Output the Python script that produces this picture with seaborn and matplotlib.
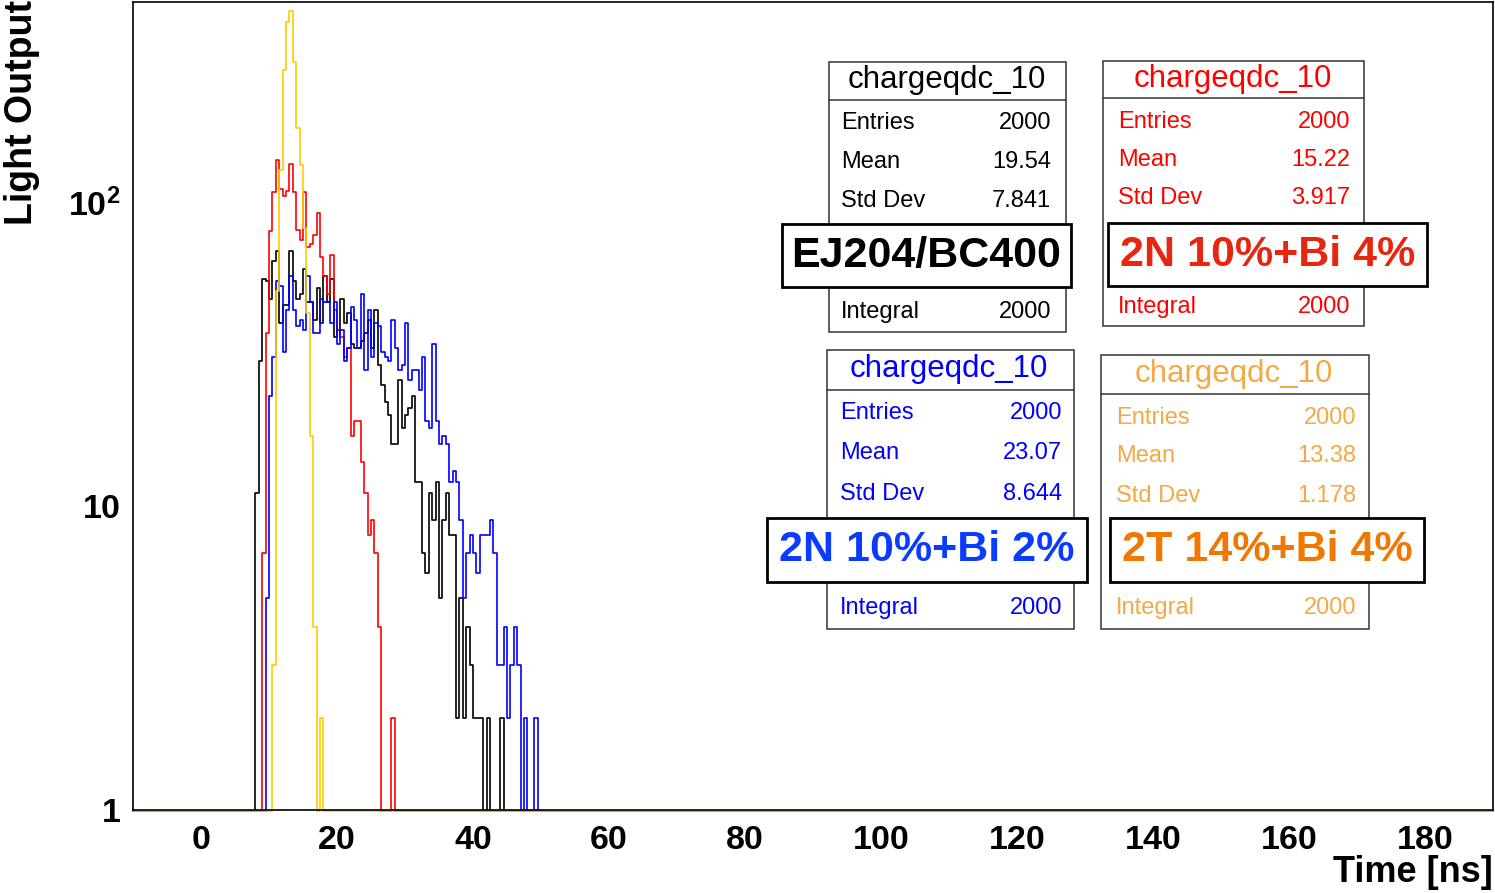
import numpy as np
import pandas as pd
import matplotlib
matplotlib.use("Agg")
import matplotlib.pyplot as plt
import seaborn as sns
from matplotlib.patches import Rectangle
from matplotlib.lines import Line2D
from matplotlib.ticker import FixedLocator, MultipleLocator, LogLocator, NullFormatter

# ---------------- data ----------------
BIN_WIDTH = 0.5
X_RANGE = (-10, 190)
Y_RANGE = (1, 455)
EMPTY_BIN_LEVEL = 0.99   # where empty bins are drawn on the log axis (at its floor)

black_start = 8.0
black_counts = [11, 30, 56, 55, 48, 64, 69, 40, 46, 46,
                69, 55, 48, 50, 60, 47, 47, 41, 52, 40,
                57, 47, 56, 36, 38, 48, 40, 43, 34, 33,
                33, 35, 37, 41, 33, 44, 29, 25, 22, 20,
                16, 16, 26, 18, 20, 21, 23, 12, 12, 7,
                6, 11, 9, 12, 5, 9, 11, 8, 8, 2,
                5, 2, 4, 3, 2, 2, 2, 0, 2, 0,
                0, 0, 2]

red_start = 9.0
red_counts = [7, 37, 80, 108, 137, 110, 105, 109, 133, 108,
              81, 75, 108, 71, 73, 78, 92, 66, 57, 50,
              67, 44, 38, 36, 31, 33, 17, 19, 19, 14,
              11, 8, 9, 7, 4, 0, 0, 0, 2]

blue_start = 9.5
blue_counts = [5, 23, 31, 55, 53, 32, 44, 57, 44, 39,
               41, 38, 57, 47, 37, 37, 48, 47, 47, 40,
               47, 34, 38, 30, 33, 45, 41, 33, 50, 28,
               44, 31, 40, 39, 32, 31, 30, 41, 33, 28,
               29, 40, 26, 28, 28, 24, 31, 19, 18, 34,
               19, 16, 17, 16, 12, 13, 12, 9, 5, 7,
               8, 7, 6, 8, 8, 8, 9, 7, 3, 3,
               4, 2, 3, 4, 3, 0, 2, 0, 0, 2]

yellow_start = 10.5
yellow_counts = [3, 51, 127, 272, 391, 425, 289, 175, 132, 82, 43, 17, 4, 0, 2]

series_labels = ["EJ204/BC400", "2N 10%+Bi 4%", "2N 10%+Bi 2%", "2T 14%+Bi 4%"]
hist_title = "chargeqdc_10"
stat_names = ["Entries", "Mean", "Std Dev", "Integral"]
stat_entries = ["2000", "2000", "2000", "2000"]
stat_means = ["19.54", "15.22", "23.07", "13.38"]
stat_stds = ["7.841", "3.917", "8.644", "1.178"]
stat_integrals = ["2000", "2000", "2000", "2000"]

x_ticks = [0, 20, 40, 60, 80, 100, 120, 140, 160, 180]
x_tick_labels = ["0", "20", "40", "60", "80", "100", "120", "140", "160", "180"]
y_ticks = [1, 10, 100]
y_tick_labels = ["1", "10", r"$\mathbf{10^{2}}$"]
x_title = "Time [ns]"
y_title = "Light Output"

# ---------------- style ----------------
sns.set_theme(style="white")
plt.rcParams['font.family'] = ['Liberation Sans', 'DejaVu Sans']
plt.rcParams['mathtext.fontset'] = 'custom'
plt.rcParams['mathtext.rm'] = 'Liberation Sans'
plt.rcParams['mathtext.bf'] = 'Liberation Sans:bold'

hist_colors = ["#000000", "#ff0000", "#0000ff", "#ffcc00"]
stat_colors = ["#000000", "#ff0000", "#0000ff", "#f4a846"]
label_colors = ["#000000", "#e8250e", "#0a3cff", "#f07800"]

W, H = 1495, 893
fig = plt.figure(figsize=(W / 100, H / 100), dpi=100)
fig.patch.set_facecolor("white")
ax = fig.add_axes([133 / W, 1 - 810 / H, (1493 - 133) / W, (810 - 2) / H])
ax.set_facecolor("white")
ax.set_yscale("log")

n_bins = int(round((X_RANGE[1] - X_RANGE[0]) / BIN_WIDTH))
centers = X_RANGE[0] + BIN_WIDTH * (np.arange(n_bins) + 0.5)


def full_range(start, counts):
    arr = np.zeros(n_bins)
    i0 = int(round((start - X_RANGE[0]) / BIN_WIDTH))
    arr[i0:i0 + len(counts)] = counts
    return arr


all_series = [(black_start, black_counts), (red_start, red_counts),
              (blue_start, blue_counts), (yellow_start, yellow_counts)]
for (start, counts), color in zip(all_series, hist_colors):
    df = pd.DataFrame({"t": centers,
                       "n": np.maximum(full_range(start, counts), EMPTY_BIN_LEVEL)})
    sns.histplot(data=df, x="t", weights="n", bins=n_bins, binrange=X_RANGE,
                 element="step", fill=False, color=color, linewidth=1.2, ax=ax)
for ln in ax.lines:
    ln.set_clip_on(False)

ax.set_xlim(*X_RANGE)
ax.set_ylim(*Y_RANGE)
ax.set_xlabel("")
ax.set_ylabel("")

ax.xaxis.set_major_locator(FixedLocator(x_ticks))
ax.set_xticklabels(x_tick_labels)
ax.xaxis.set_minor_locator(MultipleLocator(5))
ax.yaxis.set_major_locator(FixedLocator(y_ticks))
ax.set_yticklabels(y_tick_labels)
ax.yaxis.set_minor_locator(LogLocator(base=10, subs=np.arange(2, 10)))
ax.yaxis.set_minor_formatter(NullFormatter())

ax.tick_params(axis="both", which="both", direction="in", top=False, right=False,
               color="black", width=0.8, labelcolor="black", labelsize=24.5)
ax.tick_params(axis="x", which="major", length=16.5, pad=10.5)
ax.tick_params(axis="x", which="minor", length=8)
ax.tick_params(axis="y", which="major", length=29.5, pad=9)
ax.tick_params(axis="y", which="minor", length=15)
for lab in ax.get_xticklabels() + ax.get_yticklabels():
    lab.set_fontweight("bold")
for sp in ax.spines.values():
    sp.set_color("black")
    sp.set_linewidth(1.2)

fig.text(1493 / W, 1 - 890 / H, x_title, ha="right", va="bottom",
         fontsize=26, fontweight="bold", color="black")
fig.text(22 / W, 1 - 0 / H, y_title, ha="center", va="top", rotation=90,
         fontsize=27, fontweight="bold", color="black")

# ---------------- stat boxes (layout in pixels) ----------------
layout = [
    dict(box=(829, 62, 1066, 332), sep=100, title=(947, 88), rows=[129, 168, 207, 318],
         lx=841, rx=1051, lbox=(782, 224, 1071, 287)),
    dict(box=(1103, 61, 1364, 326), sep=98, title=(1233, 87), rows=[128, 166, 204, 313],
         lx=1118, rx=1350, lbox=(1108, 223, 1427, 286)),
    dict(box=(827, 350, 1074, 629), sep=390, title=(949, 377), rows=[419, 459, 500, 614],
         lx=840, rx=1062, lbox=(767, 518, 1087, 582)),
    dict(box=(1101, 355, 1369, 629), sep=394, title=(1234, 382), rows=[424, 462, 502, 614],
         lx=1116, rx=1356, lbox=(1110, 518, 1424, 582)),
]


def rect_px(x0, y0, x1, y1, **kw):
    return Rectangle((x0 / W, 1 - y1 / H), (x1 - x0) / W, (y1 - y0) / H,
                     transform=fig.transFigure, **kw)


for i, lay in enumerate(layout):
    x0, y0, x1, y1 = lay["box"]
    fig.add_artist(rect_px(x0, y0, x1, y1, facecolor="white", edgecolor="#333333",
                           linewidth=1.1, zorder=5))
    fig.add_artist(Line2D([x0 / W, x1 / W], [1 - lay["sep"] / H] * 2,
                          transform=fig.transFigure, color="#333333", linewidth=1.1, zorder=6))
    tx, ty = lay["title"]
    fig.text(tx / W, 1 - ty / H, hist_title, ha="center", va="baseline",
             fontsize=22.5, color=stat_colors[i], zorder=7)
    values = [stat_entries[i], stat_means[i], stat_stds[i], stat_integrals[i]]
    for name, val, ry in zip(stat_names, values, lay["rows"]):
        fig.text(lay["lx"] / W, 1 - ry / H, name, ha="left", va="baseline",
                 fontsize=17, color=stat_colors[i], zorder=7)
        fig.text(lay["rx"] / W, 1 - ry / H, val, ha="right", va="baseline",
                 fontsize=17, color=stat_colors[i], zorder=7)
    bx0, by0, bx1, by1 = lay["lbox"]
    fig.add_artist(rect_px(bx0, by0, bx1, by1, facecolor="white", edgecolor="black",
                           linewidth=2.0, zorder=8))
    fig.text((bx0 + bx1) / 2 / W, 1 - (by0 + by1) / 2 / H, series_labels[i],
             ha="center", va="center", fontsize=31, fontweight="bold",
             color=label_colors[i], zorder=9)

fig.savefig("out.png", dpi=100, facecolor="white")
